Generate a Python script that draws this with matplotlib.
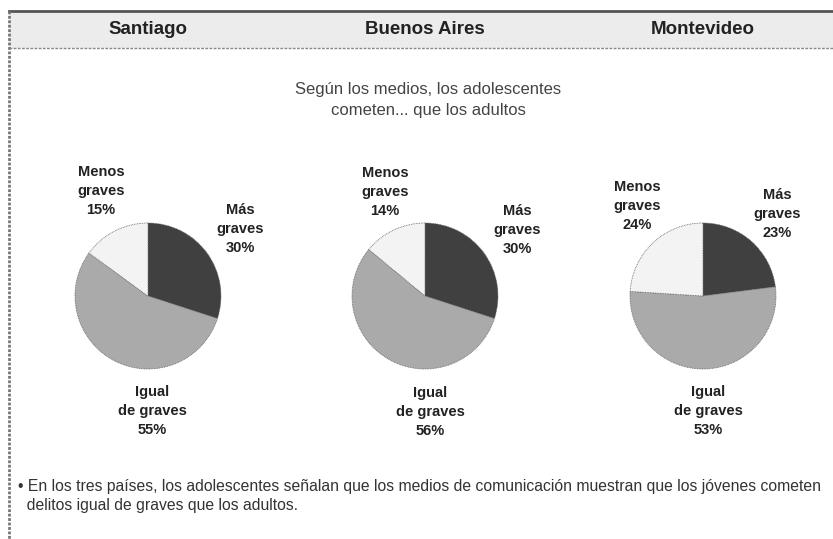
import matplotlib
matplotlib.use("Agg")
import matplotlib.pyplot as plt
from matplotlib.patches import Rectangle

cities = ["Santiago", "Buenos Aires", "Montevideo"]
categories = ["Más\ngraves", "Igual\nde graves", "Menos\ngraves"]
mas_graves = [30, 30, 23]
igual_graves = [55, 56, 53]
menos_graves = [15, 14, 24]
title_text = "Según los medios, los adolescentes\ncometen... que los adultos"
footer_text = ("• En los tres países, los adolescentes señalan que los medios de comunicación muestran que los jóvenes cometen\n"
               "  delitos igual de graves que los adultos.")

colors = ["#404040", "#aaaaaa", "#f3f3f3"]
FONT = 'Liberation Sans'

W, H = 833, 539
fig = plt.figure(figsize=(W / 100, H / 100), dpi=100)
ax = fig.add_axes([0, 0, 1, 1])
ax.set_xlim(0, W)
ax.set_ylim(0, H)
ax.set_aspect('equal')
ax.axis('off')

def Y(y):
    return H - y

# frame and header band
ax.add_patch(Rectangle((9, Y(48)), W, 37, facecolor="#ececec", edgecolor="none", zorder=0))
ax.plot([9, W], [Y(11), Y(11)], color="#555555", lw=2.0)
ax.plot([9, 9], [Y(11), 0], color="#777777", lw=2.0, linestyle=(0, (1, 0.6)))
ax.plot([9, W], [Y(48), Y(48)], color="#888888", lw=1.0, linestyle=(0, (2, 1)))

centers_x = [148, 425, 703]
for cx, city in zip(centers_x, cities):
    ax.text(cx, Y(29), city, ha='center', va='center', fontsize=13.5, fontweight='bold',
            family=FONT, color="#222222")

ax.text(428, Y(100), title_text, ha='center', va='center', fontsize=12,
        family=FONT, color="#444444", linespacing=1.5)

# pies
label_pos = [
    [(240, 229), (152, 411), (101, 191)],
    [(517, 230), (430, 412), (385, 192)],
    [(777, 214), (708, 411), (637, 206)],
]
for i, cx in enumerate(centers_x):
    vals = [mas_graves[i], igual_graves[i], menos_graves[i]]
    ax.pie(vals, colors=colors, startangle=90, counterclock=False,
           center=(cx, Y(296)), radius=73,
           wedgeprops=dict(edgecolor="#666666", linewidth=0.6, linestyle=(0, (1, 1))))
    for (lx, ly), cat, v in zip(label_pos[i], categories, vals):
        ax.text(lx, Y(ly), f"{cat}\n{v}%", ha='center', va='center', fontsize=10.5,
                fontweight='bold', family=FONT, color="#222222", linespacing=1.45)

ax.set_xlim(0, W)
ax.set_ylim(0, H)

ax.text(18, Y(496), footer_text, ha='left', va='center', fontsize=11.3,
        family=FONT, color="#333333", linespacing=1.4)

fig.savefig("out.png", dpi=100)
